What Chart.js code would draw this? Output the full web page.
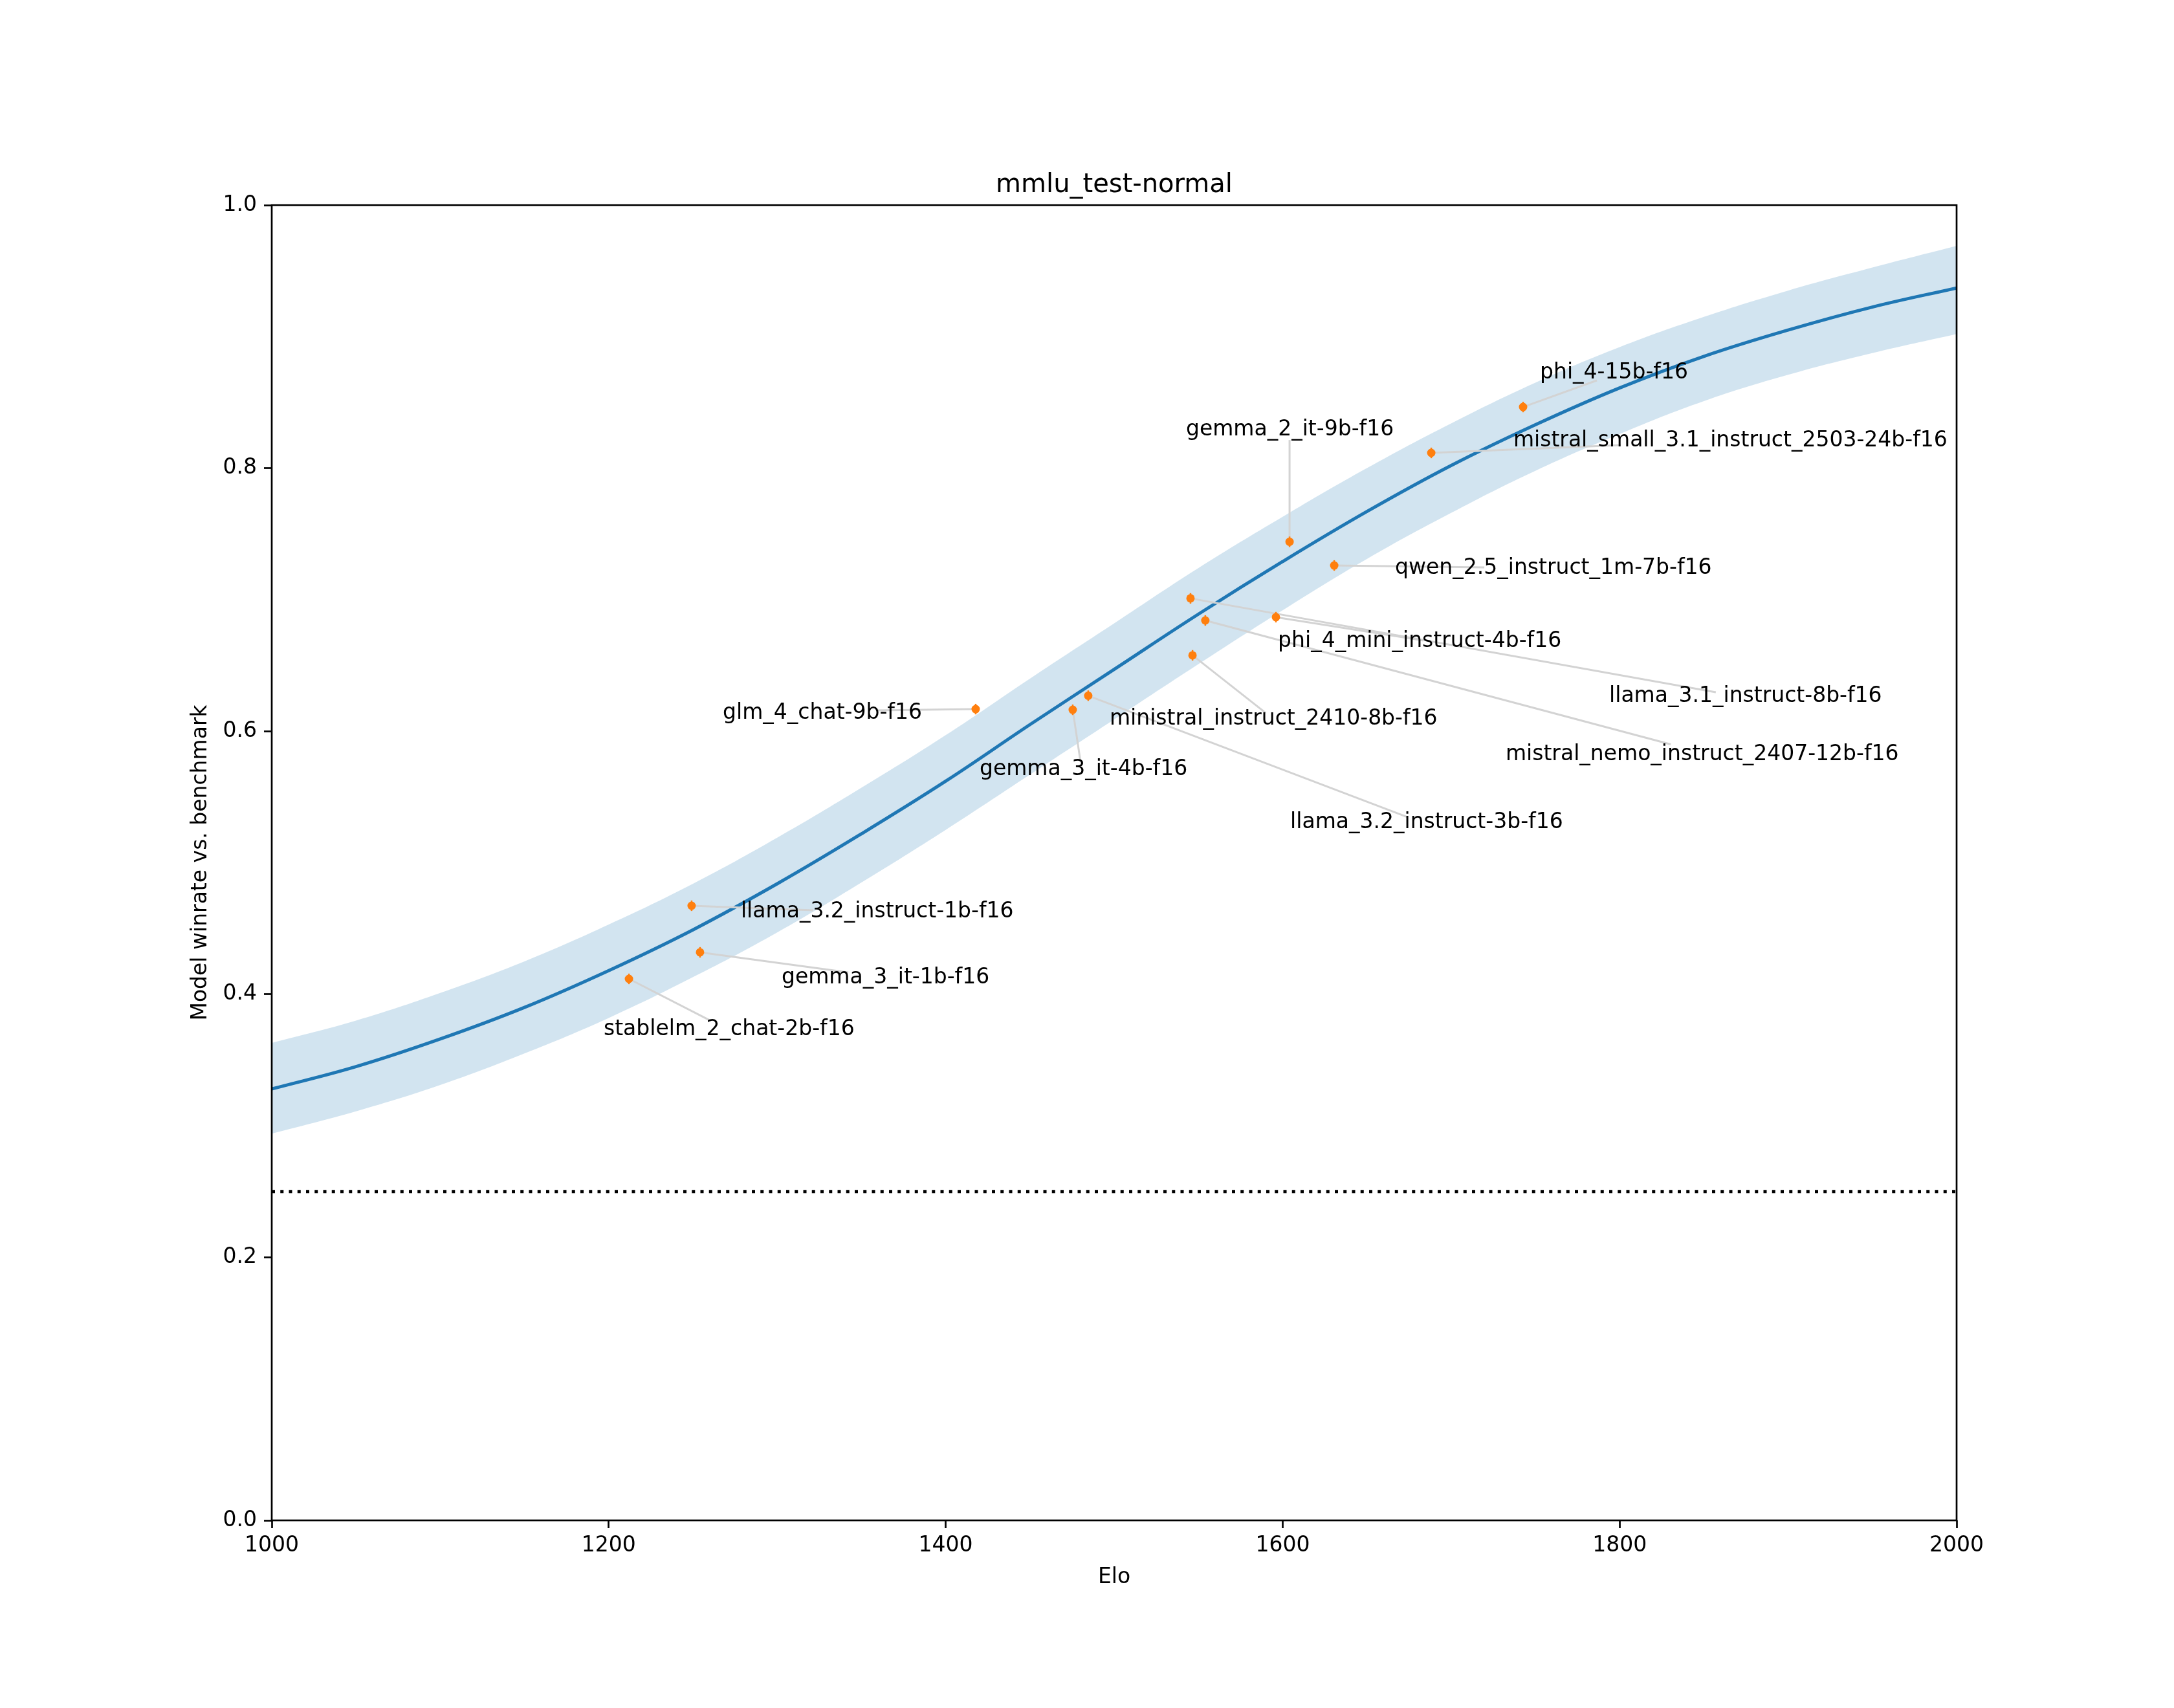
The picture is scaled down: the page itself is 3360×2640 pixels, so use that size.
<!DOCTYPE html>
<html>
<head>
<meta charset="utf-8">
<title>mmlu_test-normal</title>
<script src="https://cdn.jsdelivr.net/npm/chart.js@4.4.1/dist/chart.umd.min.js"></script>
<style>
  html, body { margin: 0; padding: 0; background: #fff; }
  canvas { display: block; }
</style>
</head>
<body>
<canvas id="chart" width="3360" height="2640"></canvas>
<script>
// fitted curve and its band
const fitElo = [1000, 1050, 1100, 1150, 1200, 1250, 1300, 1350, 1400, 1450, 1500,
                1550, 1600, 1650, 1700, 1750, 1800, 1850, 1900, 1950, 2000];
const fitWinrate = [0.328, 0.345, 0.366, 0.390, 0.418, 0.449, 0.484, 0.522, 0.562, 0.605, 0.647,
                    0.689, 0.729, 0.767, 0.802, 0.833, 0.861, 0.885, 0.905, 0.9225, 0.937];
const fitUpper = [0.363, 0.380, 0.401, 0.425, 0.453, 0.484, 0.519, 0.557, 0.597, 0.640, 0.682,
                  0.724, 0.763, 0.800, 0.834, 0.865, 0.892, 0.915, 0.935, 0.9525, 0.969];
const fitLower = [0.294, 0.311, 0.331, 0.355, 0.382, 0.413, 0.447, 0.485, 0.525, 0.567, 0.609,
                  0.651, 0.692, 0.731, 0.766, 0.798, 0.826, 0.851, 0.871, 0.8875, 0.902];
const chanceLevel = 0.25;

// models
const models = [
  'phi_4-15b-f16', 'mistral_small_3.1_instruct_2503-24b-f16', 'gemma_2_it-9b-f16',
  'qwen_2.5_instruct_1m-7b-f16', 'phi_4_mini_instruct-4b-f16', 'llama_3.1_instruct-8b-f16',
  'mistral_nemo_instruct_2407-12b-f16', 'ministral_instruct_2410-8b-f16', 'llama_3.2_instruct-3b-f16',
  'gemma_3_it-4b-f16', 'glm_4_chat-9b-f16', 'llama_3.2_instruct-1b-f16',
  'gemma_3_it-1b-f16', 'stablelm_2_chat-2b-f16'
];
const modelElo = [1742.7, 1688.2, 1604.1, 1630.6, 1596.0, 1545.3, 1554.1,
                  1546.5, 1484.6, 1475.4, 1417.8, 1249.2, 1254.2, 1212.0];
const modelWinrate = [0.8465, 0.8116, 0.744, 0.726, 0.6867, 0.701, 0.6842,
                      0.6577, 0.627, 0.6163, 0.6168, 0.4673, 0.4319, 0.4117];
const modelErr = [0.004, 0.004, 0.004, 0.004, 0.004, 0.004, 0.004,
                  0.004, 0.004, 0.004, 0.004, 0.004, 0.004, 0.004];

const xTicks = [1000, 1200, 1400, 1600, 1800, 2000];
const yTicks = [0.0, 0.2, 0.4, 0.6, 0.8, 1.0];

// label placement in data units: text (left, baseline) and where the leader line stops
const labelAt = [
  [1752.7, 0.8682], [1736.9, 0.8165], [1542.6, 0.8249], [1666.7, 0.7196],
  [1597.2, 0.6640], [1793.8, 0.6222], [1732.3, 0.5780], [1497.3, 0.6050],
  [1604.5, 0.5263], [1420.1, 0.5667], [1267.7, 0.6094], [1278.4, 0.4584],
  [1302.6, 0.4083], [1197.0, 0.3689]
];
const leaderEnd = [
  [1786.5, 0.8667], [1800.7, 0.8175], [1604.1, 0.8214], [1719.7, 0.7245],
  [1683.6, 0.6690], [1857.1, 0.6296], [1830.3, 0.5900], [1589.9, 0.6139],
  [1674.0, 0.5347], [1480.0, 0.5770], [1358.7, 0.6158], [1321.4, 0.4638],
  [1342.2, 0.4166], [1260.8, 0.3797]
];

const FONT = '"DejaVu Sans", sans-serif';
const toXY = (xs, ys) => xs.map((x, i) => ({ x: x, y: ys[i] }));

const decor = {
  id: 'decor',
  beforeDatasetDraw(chart, args) {
    if (args.index !== 0) return;
    const ctx = chart.ctx, sx = chart.scales.x, sy = chart.scales.y;
    ctx.save();
    ctx.strokeStyle = '#d3d3d3';
    ctx.lineWidth = 3;
    models.forEach((m, i) => {
      ctx.beginPath();
      ctx.moveTo(sx.getPixelForValue(modelElo[i]), sy.getPixelForValue(modelWinrate[i]));
      ctx.lineTo(sx.getPixelForValue(leaderEnd[i][0]), sy.getPixelForValue(leaderEnd[i][1]));
      ctx.stroke();
    });
    // error bars
    ctx.strokeStyle = '#ff7f0e';
    ctx.lineWidth = 2.5;
    models.forEach((m, i) => {
      const px = sx.getPixelForValue(modelElo[i]);
      ctx.beginPath();
      ctx.moveTo(px, sy.getPixelForValue(modelWinrate[i] - modelErr[i]));
      ctx.lineTo(px, sy.getPixelForValue(modelWinrate[i] + modelErr[i]));
      ctx.stroke();
    });
    ctx.restore();
  },
  afterDatasetsDraw(chart) {
    const ctx = chart.ctx, sx = chart.scales.x, sy = chart.scales.y;
    const a = chart.chartArea;
    ctx.save();
    ctx.fillStyle = '#000';
    ctx.font = '33px ' + FONT;
    ctx.textAlign = 'left';
    ctx.textBaseline = 'alphabetic';
    models.forEach((m, i) => {
      ctx.fillText(m, sx.getPixelForValue(labelAt[i][0]), sy.getPixelForValue(labelAt[i][1]));
    });
    // frame
    ctx.strokeStyle = '#000';
    ctx.lineWidth = 2.7;
    ctx.strokeRect(a.left, a.top, a.right - a.left, a.bottom - a.top);
    ctx.restore();
  },
  afterDraw(chart) {
    const ctx = chart.ctx, a = chart.chartArea;
    const cx = (a.left + a.right) / 2;
    ctx.save();
    ctx.fillStyle = '#000';
    ctx.textAlign = 'center';
    ctx.font = '40px ' + FONT;
    ctx.textBaseline = 'alphabetic';
    ctx.fillText('mmlu_test-normal', cx, a.top - 20);
    ctx.font = '33px ' + FONT;
    ctx.fillText('Elo', cx, 2447);
    ctx.translate(310, (a.top + a.bottom) / 2);
    ctx.rotate(-Math.PI / 2);
    ctx.textBaseline = 'middle';
    ctx.fillText('Model winrate vs. benchmark', 0, 0);
    ctx.restore();
  }
};

const axisGrid = {
  display: true,
  drawOnChartArea: false,
  drawTicks: true,
  tickLength: 12,
  tickWidth: 2.7,
  tickColor: '#000'
};

new Chart(document.getElementById('chart'), {
  type: 'scatter',
  data: {
    datasets: [
      {
        label: 'models',
        data: toXY(modelElo, modelWinrate),
        backgroundColor: '#ff7f0e',
        borderWidth: 0,
        pointRadius: 6.5,
        order: 0
      },
      {
        type: 'line',
        label: 'fit',
        data: toXY(fitElo, fitWinrate),
        borderColor: '#1f77b4',
        borderWidth: 5,
        pointRadius: 0,
        tension: 0.4,
        fill: false,
        order: 1
      },
      {
        type: 'line',
        label: 'upper',
        data: toXY(fitElo, fitUpper),
        borderWidth: 0,
        borderColor: 'rgba(0,0,0,0)',
        backgroundColor: 'rgba(31,119,180,0.2)',
        pointRadius: 0,
        tension: 0.4,
        fill: '+1',
        order: 2
      },
      {
        type: 'line',
        label: 'lower',
        data: toXY(fitElo, fitLower),
        borderWidth: 0,
        borderColor: 'rgba(0,0,0,0)',
        pointRadius: 0,
        tension: 0.4,
        fill: false,
        order: 3
      },
      {
        type: 'line',
        label: 'chance',
        data: [{ x: xTicks[0], y: chanceLevel }, { x: xTicks[xTicks.length - 1], y: chanceLevel }],
        borderColor: '#000',
        borderWidth: 5,
        borderDash: [5, 8.25],
        borderCapStyle: 'butt',
        pointRadius: 0,
        fill: false,
        order: 4
      }
    ]
  },
  options: {
    responsive: false,
    devicePixelRatio: 1,
    animation: false,
    layout: {
      padding: { top: 317, right: 336, left: 0, bottom: 0 }
    },
    plugins: {
      legend: { display: false },
      tooltip: { enabled: false }
    },
    scales: {
      x: {
        type: 'linear',
        min: 1000,
        max: 2000,
        afterBuildTicks: s => { s.ticks = xTicks.map(v => ({ value: v })); },
        afterFit: s => { s.height = 290; },
        ticks: {
          color: '#000',
          font: { family: FONT, size: 33 },
          padding: 8,
          maxRotation: 0,
          callback: v => String(v)
        },
        grid: axisGrid,
        border: { display: false }
      },
      y: {
        min: 0,
        max: 1,
        afterBuildTicks: s => { s.ticks = yTicks.map(v => ({ value: v })); },
        afterFit: s => { s.width = 420; },
        ticks: {
          color: '#000',
          font: { family: FONT, size: 33 },
          padding: 11,
          callback: v => Number(v).toFixed(1)
        },
        grid: axisGrid,
        border: { display: false }
      }
    }
  },
  plugins: [decor]
});
</script>
</body>
</html>
